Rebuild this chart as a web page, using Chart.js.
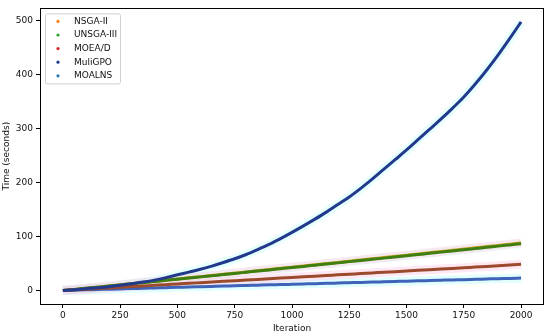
<!DOCTYPE html>
<html>
<head>
<meta charset="utf-8">
<script src="https://cdn.jsdelivr.net/npm/chart.js@4.4.1/dist/chart.umd.min.js"></script>
<style>
  html, body { margin: 0; padding: 0; background: #fff; }
  #wrap { width: 550px; height: 335px; position: relative; }
</style>
</head>
<body>
<div id="wrap"><canvas id="c" width="550" height="335"></canvas></div>
<script>
// ---- data ----
const iterations = [0,50,100,150,200,250,300,350,400,450,500,550,600,650,700,750,800,850,900,950,1000,
  1050,1100,1150,1200,1250,1300,1350,1400,1450,1500,1550,1600,1650,1700,1750,1800,1850,1900,1950,2000];
const seriesNames = ["NSGA-II", "UNSGA-III", "MOEA/D", "MuliGPO", "MOALNS"];
const nsga2 = [0,2.0,4.1,6.2,8.3,10.5,12.6,14.8,16.9,19.1,21.3,23.4,25.6,27.8,30.0,32.2,34.4,36.6,38.8,41.0,43.2,
  45.4,47.6,49.8,52.0,54.3,56.5,58.7,61.0,63.2,65.4,67.7,69.9,72.2,74.4,76.7,78.9,81.2,83.5,85.8,88.0];
const unsga3 = [0,2.0,4.0,6.1,8.2,10.3,12.4,14.5,16.6,18.8,20.9,23.0,25.2,27.3,29.5,31.6,33.8,36.0,38.1,40.3,42.5,
  44.6,46.8,49.0,51.1,53.4,55.5,57.7,59.9,62.1,64.3,66.5,68.7,71.0,73.1,75.4,77.6,79.8,82.1,84.3,86.5];
const moead = [0,1.2,2.4,3.6,4.8,6.0,7.2,8.4,9.6,10.8,12.2,13.3,14.5,15.7,16.9,18.1,19.3,20.5,21.7,22.9,24.1,
  25.3,26.5,27.7,28.9,30.1,31.3,32.5,33.7,34.9,36.1,37.3,38.5,39.7,40.9,42.1,43.3,44.5,45.7,47.0,48.5];
const muligpo = [0,1.5,3.2,5.0,7.1,9.8,12.6,15.6,19.2,23.8,29.0,34.0,39.2,45.2,51.8,58.8,66.6,75.6,85.2,96.0,107.5,
  119.5,132,145,159,173,189,206,224,242,260,279,298,317,337,358,382,408,436,466,497];
const moalns = [0,0.6,1.2,1.7,2.3,2.9,3.5,4.0,4.6,5.2,5.8,6.3,6.9,7.5,8.1,8.6,9.2,9.8,10.4,10.9,11.5,
  12.1,12.7,13.2,13.8,14.4,15.0,15.5,16.1,16.7,17.3,17.8,18.4,19.0,19.6,20.1,20.7,21.3,21.9,22.4,23.0];
const xTicks = [0,250,500,750,1000,1250,1500,1750,2000];
const yTicks = [0,100,200,300,400,500];

// ---- styles ----
const lineColors = ["#c9a21c", "#3f7f12", "#9b4a2c", "#233a8c", "#3f63b8"];
const legendColors = ["#ff7f0e", "#2ca02c", "#d62728", "#1f3f8f", "#1f77b4"];
const haloColors = ["rgba(255,200,225,0.4)", "rgba(200,255,240,0.35)", "rgba(255,205,230,0.45)", "rgba(200,255,255,0.45)", "rgba(200,255,255,0.55)"];
const values = [nsga2, unsga3, moead, muligpo, moalns];
const lineOrder = [3, 2, 1, 0, 1];

const pts = arr => arr.map((v, i) => ({x: iterations[i], y: v}));
const FONT = "'DejaVu Sans', sans-serif";

const datasets = [];
values.forEach((arr, i) => {
  datasets.push({
    label: seriesNames[i], data: pts(arr), borderColor: lineColors[i], backgroundColor: legendColors[i],
    borderWidth: 3, pointRadius: 0, cubicInterpolationMode: 'monotone', order: lineOrder[i]
  });
});
values.forEach((arr, i) => {
  datasets.push({
    label: "_halo" + i, data: pts(arr), borderColor: haloColors[i], borderWidth: 9,
    pointRadius: 0, cubicInterpolationMode: 'monotone', order: 20
  });
});

const framePlugin = {
  id: 'frame',
  afterDraw(chart) {
    const {ctx, chartArea: a} = chart;
    ctx.save();
    ctx.strokeStyle = '#000';
    ctx.lineWidth = 1;
    ctx.strokeRect(Math.round(a.left) + 0.5, Math.round(a.top) + 0.5, Math.round(a.right - a.left) - 1, Math.round(a.bottom - a.top));
    // legend
    const bx = a.left + 5, by = a.top + 5, bw = 75, bh = 70;
    ctx.fillStyle = 'rgba(255,255,255,0.85)';
    ctx.strokeStyle = '#d0d0d0';
    ctx.lineWidth = 1;
    ctx.beginPath();
    if (ctx.roundRect) ctx.roundRect(bx + 0.5, by + 0.5, bw, bh, 2); else ctx.rect(bx + 0.5, by + 0.5, bw, bh);
    ctx.fill(); ctx.stroke();
    ctx.font = "9px " + FONT;
    ctx.textBaseline = 'middle';
    ctx.textAlign = 'left';
    seriesNames.forEach((name, i) => {
      const y = by + 8 + i * 13.6;
      ctx.fillStyle = legendColors[i];
      ctx.beginPath();
      ctx.arc(bx + 13, y, 1.6, 0, Math.PI * 2);
      ctx.fill();
      ctx.fillStyle = '#111';
      ctx.fillText(name, bx + 29, y);
    });
    ctx.restore();
  }
};

new Chart(document.getElementById('c'), {
  type: 'line',
  data: { datasets },
  plugins: [framePlugin],
  options: {
    responsive: false,
    animation: false,
    devicePixelRatio: 1,
    layout: { padding: { left: 0, right: 6, top: 4, bottom: 0 } },
    plugins: { legend: { display: false }, tooltip: { enabled: false } },
    scales: {
      x: {
        type: 'linear', min: -100, max: 2100,
        afterBuildTicks: s => { s.ticks = xTicks.map(v => ({value: v})); },
        afterFit: s => { s.height = 31; },
        grid: { drawOnChartArea: false, drawTicks: true, tickLength: 4, color: '#000', tickColor: '#000' },
        border: { display: false },
        ticks: { color: '#111', font: { family: FONT, size: 9 }, padding: 2, maxRotation: 0, autoSkip: false,
                 callback: v => String(v) },
        title: { display: true, text: 'Iteration', color: '#111', font: { family: FONT, size: 9 }, padding: { top: 0, bottom: 1 } }
      },
      y: {
        type: 'linear', min: -25, max: 522,
        afterBuildTicks: s => { s.ticks = yTicks.map(v => ({value: v})); },
        afterFit: s => { s.width = 40; },
        grid: { drawOnChartArea: false, drawTicks: true, tickLength: 4, color: '#000', tickColor: '#000' },
        border: { display: false },
        ticks: { color: '#111', font: { family: FONT, size: 9 }, padding: 3, callback: v => String(v) },
        title: { display: true, text: 'Time (seconds)', color: '#111', font: { family: FONT, size: 9 }, padding: { top: 1, bottom: 0 } }
      }
    }
  }
});
</script>
</body>
</html>
